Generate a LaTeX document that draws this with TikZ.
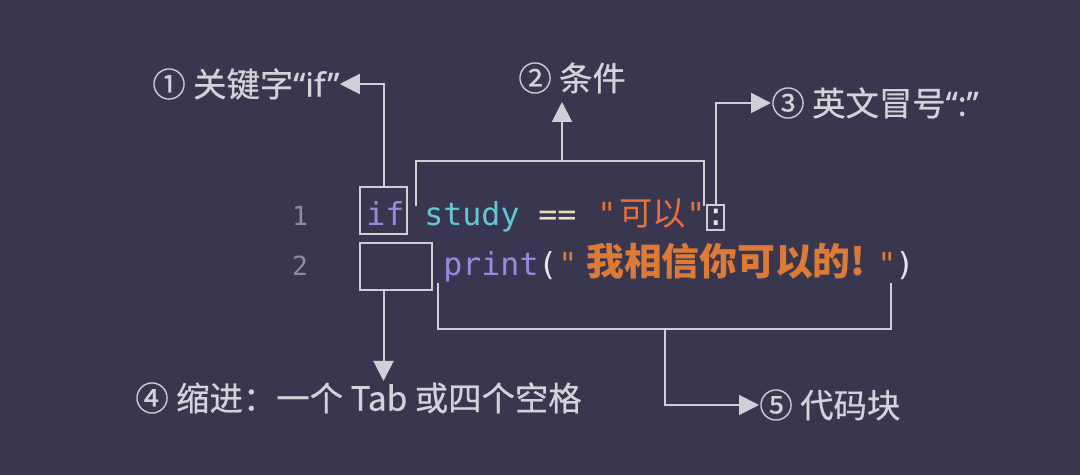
\documentclass[tikz,border=0pt]{standalone}
\usepackage{fontspec}
\usepackage{tikz}
\usetikzlibrary{arrows.meta,positioning,calc}
\newfontfamily\cjk{Noto Sans CJK SC}
\newfontfamily\cjklabel[FakeBold=0.5]{Noto Sans CJK SC}
\newfontfamily\latinlabel[FakeBold=0.5]{Noto Sans}
\newfontfamily\codefont{DejaVu Sans Mono}
\definecolor{BgDark}{HTML}{393750}
\definecolor{LabelGray}{HTML}{D3D3DB}
\definecolor{LineGray}{HTML}{CFCFD7}
\definecolor{NumGray}{HTML}{8C8C9C}
\definecolor{KwPurple}{HTML}{9C88E2}
\definecolor{VarCyan}{HTML}{63C7D6}
\definecolor{OpCream}{HTML}{EEDDB8}
\definecolor{StrRed}{HTML}{E9703D}
\definecolor{StrOrange}{HTML}{DD7A36}
\definecolor{PunctWhite}{HTML}{E6E6F0}

\begin{document}
\begin{tikzpicture}[
    x=0.02cm, y=-0.02cm,
    hlbox/.style={
      draw=LineGray,
      line width=0.04cm,
      inner sep=0pt
    },
    tag/.style={
      font=\cjklabel\fontsize{19}{22}\selectfont,
      text=LabelGray,
      inner sep=0pt
    },
    code/.style={
      font=\codefont\fontsize{18}{20}\selectfont,
      inner sep=0pt,
      anchor=base west
    },
    codecjk/.style={
      font=\cjk\fontsize{19}{22}\selectfont,
      inner sep=0pt,
      anchor=base west
    },
    lnum/.style={
      font=\codefont\fontsize{15}{18}\selectfont,
      text=NumGray,
      inner sep=0pt,
      anchor=base
    },
    callout/.style={
      draw=LineGray,
      line width=0.04cm
    },
    pointer/.style={
      callout,
      -{Triangle[length=0.4cm,width=0.4cm]}
    }
  ]

  % Background
  \fill[BgDark] (0,0) rectangle (1080,475);

  % Line numbers
  \node[lnum] (n1) at (300,226) {1};
  \node[lnum] (n2) at (300,276) {2};

  % Line 1: if study == "可以":
  \node[code,text=KwPurple] (kwif) at (366,226) {if};
  \node[code,text=VarCyan] (vstudy) at (424,226) {study};
  \node[code,text=OpCream] (opeq) at (538,226) {==};
  \node[code,text=StrRed] (q1) at (597,226) {"};
  \node[codecjk,text=StrRed] (s1) at (619,226) {可以};
  \node[code,text=StrRed] (q2) at (686,226) {"};
  \node[code,text=PunctWhite] (colon) at (706,226) {:};

  % Line 2: print("我相信你可以的!")
  \node[code,text=KwPurple] (kwprint) at (443,276) {print};
  \node[code,text=PunctWhite] (paren1) at (538,276) {(};
  \node[code,text=StrOrange] (q3) at (558,276) {"};
  \node[codecjk,text=StrOrange,font=\cjk\bfseries\fontsize{21.5}{24}\selectfont]
    (s2) at (586,276) {我相信你可以的!};
  \node[code,text=StrOrange] (q4) at (877,276) {"};
  \node[code,text=PunctWhite] (paren2) at (895,276) {)};

  % Highlight boxes
  \node[hlbox,minimum width=0.94cm,minimum height=0.94cm] (ifbox) at (383.5,210.5) {};
  \node[hlbox,minimum width=1.44cm,minimum height=0.94cm] (indentbox) at (396,266.5) {};
  \node[hlbox,minimum width=0.34cm,minimum height=0.5cm] (colonbox) at (715.5,217.5) {};

  % Labels
  \node[tag,anchor=west] (lab1) at (152,84) {① 关键字{\latinlabel “if”}};
  \node[tag,anchor=west] (lab2) at (518,78) {② 条件};
  \node[tag,anchor=west] (lab3) at (771,103) {③ 英文冒号{\latinlabel “:”}};
  \node[tag,anchor=west] (lab4) at (135,398) {④ 缩进：一个 Tab 或四个空格};
  \node[tag,anchor=west] (lab5) at (759,405) {⑤ 代码块};

  % Brackets
  \coordinate (condl) at (416,206);
  \coordinate (condr) at (704,206);
  \coordinate (condmid) at (562,161);
  \coordinate (condtip) at (562,102);
  \draw[callout] (condl) |- (condmid) -| (condr);
  \coordinate (blockl) at (438,283);
  \coordinate (blockr) at (891,283);
  \coordinate (blockmid) at (665,329);
  \draw[callout] (blockl) |- (blockmid) -| (blockr);
  \coordinate (indenttip) at (383.5,381);

  % Pointers
  \draw[pointer] (ifbox.north) |- (lab1.east);
  \draw[pointer] (condmid) -- (condtip);
  \draw[pointer] (colonbox.north) |- (lab3.west);
  \draw[pointer] (indentbox.south -| ifbox.south) -- (indenttip);
  \draw[pointer] (blockmid) |- (lab5.west);

\end{tikzpicture}
\end{document}
